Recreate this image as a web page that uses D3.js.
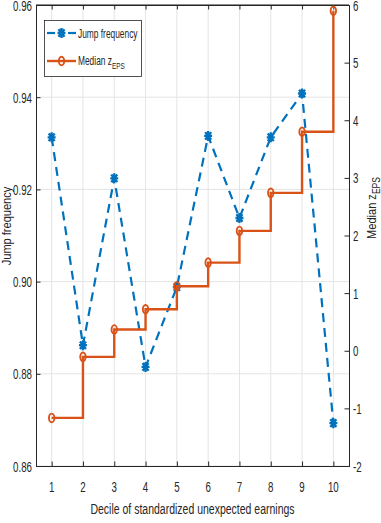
<!DOCTYPE html>
<html>
<head>
<meta charset="utf-8">
<script src="https://cdn.jsdelivr.net/npm/d3@7"></script>
<style>
  html, body { margin: 0; padding: 0; background: #fff; }
  svg { display: block; }
  text { font-family: "Liberation Sans", Arial, Helvetica, sans-serif; fill: #262626; }
</style>
</head>
<body>
<svg id="chart" width="381" height="523"></svg>
<script>
// ---- data ----
const deciles = [1, 2, 3, 4, 5, 6, 7, 8, 9, 10];
const jumpFrequency = [0.9313, 0.8862, 0.9224, 0.8815, 0.8988, 0.9316, 0.9138, 0.9313, 0.9408, 0.8693];
const medianZEPS = [-1.165, -0.106, 0.37, 0.72, 1.12, 1.53, 2.08, 2.74, 3.80, 5.90];
const leftTicks = [0.86, 0.88, 0.90, 0.92, 0.94, 0.96];
const rightTicks = [-2, -1, 0, 1, 2, 3, 4, 5, 6];
const xTicks = [1, 2, 3, 4, 5, 6, 7, 8, 9, 10];

const blue = "#0072BD", orange = "#D95319", axisCol = "#262626", gridCol = "#e4e4e4";
const SX = 0.67;

const svg = d3.select("#chart");
const L = 36, R = 349, T = 5, B = 466;
const x = d3.scaleLinear().domain([0.5, 10.5]).range([L, R]);
const yL = d3.scaleLinear().domain([0.86, 0.96]).range([B, T]);
const yR = d3.scaleLinear().domain([-2, 6]).range([B, T]);

// grid
const grid = svg.append("g");
grid.selectAll("line.gx").data(xTicks).join("line")
  .attr("x1", d => x(d)).attr("x2", d => x(d)).attr("y1", T).attr("y2", B)
  .attr("stroke", gridCol).attr("stroke-width", 1);
grid.selectAll("line.gy").data(leftTicks).join("line")
  .attr("x1", L).attr("x2", R).attr("y1", d => yL(d)).attr("y2", d => yL(d))
  .attr("stroke", gridCol).attr("stroke-width", 1);

// axes using d3 axis generators (inward ticks)
const tl = 4.5;
const axB = svg.append("g").attr("transform", `translate(0,${B})`)
  .call(d3.axisBottom(x).tickValues(xTicks).tickSize(-tl).tickFormat(""));
const axT = svg.append("g").attr("transform", `translate(0,${T})`)
  .call(d3.axisTop(x).tickValues(xTicks).tickSize(-tl).tickFormat(""));
const axLft = svg.append("g").attr("transform", `translate(${L},0)`)
  .call(d3.axisLeft(yL).tickValues(leftTicks).tickSize(-tl).tickFormat(""));
const axRgt = svg.append("g").attr("transform", `translate(${R},0)`)
  .call(d3.axisRight(yR).tickValues(rightTicks).tickSize(-tl).tickFormat(""));
[axB, axT, axLft, axRgt].forEach(g => {
  g.select(".domain").attr("stroke", axisCol).attr("stroke-width", 1);
  g.selectAll(".tick line").attr("stroke", axisCol).attr("stroke-width", 1);
  g.selectAll(".tick text").remove();
});
svg.append("line").attr("x1", L).attr("x2", R).attr("y1", T).attr("y2", T).attr("stroke", axisCol);

// tick labels
const fmt2 = d3.format(".2f");
svg.append("g").selectAll("text").data(xTicks).join("text")
  .attr("transform", d => `translate(${x(d)},${B + 26}) scale(${SX},1)`)
  .attr("text-anchor", "middle").attr("font-size", 14.5).text(d => d);
svg.append("g").selectAll("text").data(leftTicks).join("text")
  .attr("transform", d => `translate(32,${yL(d) + 5.5}) scale(${SX},1)`)
  .attr("text-anchor", "end").attr("font-size", 14.5).text(d => fmt2(d));
svg.append("g").selectAll("text").data(rightTicks).join("text")
  .attr("transform", d => `translate(353,${yR(d) + 5.5}) scale(${SX},1)`)
  .attr("text-anchor", "start").attr("font-size", 14.5).text(d => d);

// axis labels
svg.append("text")
  .attr("transform", `translate(${(L + R) / 2},514) scale(0.70,1)`)
  .attr("text-anchor", "middle").attr("font-size", 15)
  .text("Decile of standardized unexpected earnings");
svg.append("text")
  .attr("transform", `translate(10.5,226) rotate(-90) scale(0.85,1)`)
  .attr("text-anchor", "middle").attr("font-size", 13)
  .text("Jump frequency");
const rl = svg.append("text")
  .attr("transform", `translate(376,208) rotate(-90) scale(0.85,1)`)
  .attr("text-anchor", "middle").attr("font-size", 13);
rl.append("tspan").text("Median z");
rl.append("tspan").attr("font-size", 10).attr("dy", 4).text("EPS");

// series 1: jump frequency
const pts1 = deciles.map((d, i) => [x(d), yL(jumpFrequency[i])]);
svg.append("path").attr("d", d3.line()(pts1))
  .attr("fill", "none").attr("stroke", blue).attr("stroke-width", 2.2)
  .attr("stroke-dasharray", "9,6");

function asterisk(g, cx, cy) {
  const hw = 4, hh = 5, dw = 3, dh = 3.8;
  const p = `M${cx},${cy - hh}L${cx},${cy + hh}M${cx - hw},${cy}L${cx + hw},${cy}` +
    `M${cx - dw},${cy - dh}L${cx + dw},${cy + dh}M${cx - dw},${cy + dh}L${cx + dw},${cy - dh}`;
  g.append("path").attr("d", p).attr("stroke", blue).attr("stroke-width", 2.3).attr("fill", "none");
}
const m1 = svg.append("g");
pts1.forEach(p => asterisk(m1, p[0], p[1]));

// series 2: median z (stairs)
const pts2 = deciles.map((d, i) => [x(d), yR(medianZEPS[i])]);
svg.append("path").attr("d", d3.line().curve(d3.curveStepAfter)(pts2))
  .attr("fill", "none").attr("stroke", orange).attr("stroke-width", 2.4);
svg.append("g").selectAll("ellipse").data(pts2).join("ellipse")
  .attr("cx", d => d[0]).attr("cy", d => d[1]).attr("rx", 2.7).attr("ry", 4.3)
  .attr("fill", "none").attr("stroke", orange).attr("stroke-width", 1.9);

// legend
const lg = svg.append("g");
lg.append("rect").attr("x", 44.5).attr("y", 20.5).attr("width", 97).attr("height", 56)
  .attr("fill", "#fff").attr("stroke", axisCol).attr("stroke-width", 0.8);
lg.append("line").attr("x1", 47).attr("x2", 55).attr("y1", 33).attr("y2", 33)
  .attr("stroke", blue).attr("stroke-width", 2.2);
lg.append("line").attr("x1", 68).attr("x2", 76).attr("y1", 33).attr("y2", 33)
  .attr("stroke", blue).attr("stroke-width", 2.2);
asterisk(lg, 61.5, 33);
lg.append("line").attr("x1", 47).attr("x2", 76).attr("y1", 61).attr("y2", 61)
  .attr("stroke", orange).attr("stroke-width", 2.4);
lg.append("ellipse").attr("cx", 61.5).attr("cy", 61).attr("rx", 2.7).attr("ry", 4.3)
  .attr("fill", "none").attr("stroke", orange).attr("stroke-width", 1.9);
lg.append("text").attr("transform", `translate(78,38) scale(${SX},1)`)
  .attr("font-size", 12.5).text("Jump frequency");
const lt = lg.append("text").attr("transform", `translate(78,65) scale(${SX},1)`)
  .attr("font-size", 12.5);
lt.append("tspan").text("Median z");
lt.append("tspan").attr("font-size", 9.5).attr("dy", 4).text("EPS");
</script>
</body>
</html>
